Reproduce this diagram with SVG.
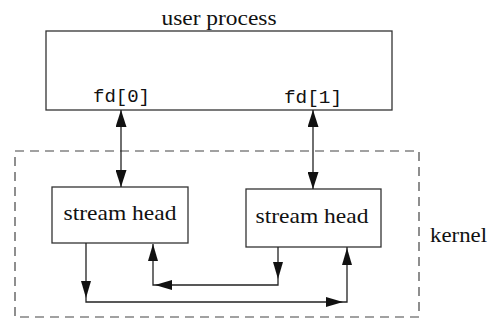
<svg xmlns="http://www.w3.org/2000/svg" width="488" height="322" viewBox="0 0 488 322">
<style>
.box{fill:#fff;stroke:#333;stroke-width:1.3}
.dash{fill:none;stroke:#444;stroke-width:1.2;stroke-dasharray:9 6}
.ln{fill:none;stroke:#222;stroke-width:1.3}
.serif{font-family:"Liberation Serif","Times New Roman",serif;font-size:22px;fill:#111}
.mono{font-family:"Liberation Mono","Courier New",monospace;font-size:18px;fill:#111}
</style>
<defs>
<marker id="ah" viewBox="0 0 17 11" refX="17" refY="5.5" markerWidth="17" markerHeight="11" markerUnits="userSpaceOnUse" orient="auto-start-reverse">
<path d="M0,0 L17,5.5 L0,11 z" fill="#111"/>
</marker>
<path id="head" d="M0,0 L-17,-5 L-17,5 z" fill="#111"/>
</defs>
<g id="kernel">
<rect class="dash" x="15" y="151" width="404" height="166"/>
<text class="serif" x="430" y="242" textLength="57" lengthAdjust="spacingAndGlyphs">kernel</text>
</g>
<g id="user-process">
<rect class="box" x="46" y="31" width="346" height="79"/>
<text class="serif" x="219" y="25" text-anchor="middle" textLength="115" lengthAdjust="spacingAndGlyphs">user process</text>
<text class="mono" x="93" y="102" textLength="57" lengthAdjust="spacingAndGlyphs">fd[0]</text>
<text class="mono" x="284" y="103" textLength="58" lengthAdjust="spacingAndGlyphs">fd[1]</text>
</g>
<g id="stream-head-1">
<rect class="box" x="52" y="187" width="136" height="56"/>
<text class="serif" x="120" y="220" text-anchor="middle" textLength="113" lengthAdjust="spacingAndGlyphs">stream head</text>
</g>
<g id="stream-head-2">
<rect class="box" x="246" y="189" width="135" height="58"/>
<text class="serif" x="312" y="223" text-anchor="middle" textLength="113" lengthAdjust="spacingAndGlyphs">stream head</text>
</g>
<g id="connectors">
<line class="ln" x1="121" y1="110" x2="121" y2="187" marker-start="url(#ah)" marker-end="url(#ah)"/>
<line class="ln" x1="313" y1="110" x2="313" y2="189" marker-start="url(#ah)" marker-end="url(#ah)"/>
<path class="ln" d="M86,243 V302 H347 V247"/>
<use href="#head" transform="translate(86,298) rotate(90)"/>
<use href="#head" transform="translate(343,302)"/>
<use href="#head" transform="translate(347,248) rotate(-90)"/>
<path class="ln" d="M278,247 V285 H153 V244"/>
<use href="#head" transform="translate(278,279) rotate(90)"/>
<use href="#head" transform="translate(155,285) rotate(180)"/>
<use href="#head" transform="translate(153,244) rotate(-90)"/>
</g>
</svg>
